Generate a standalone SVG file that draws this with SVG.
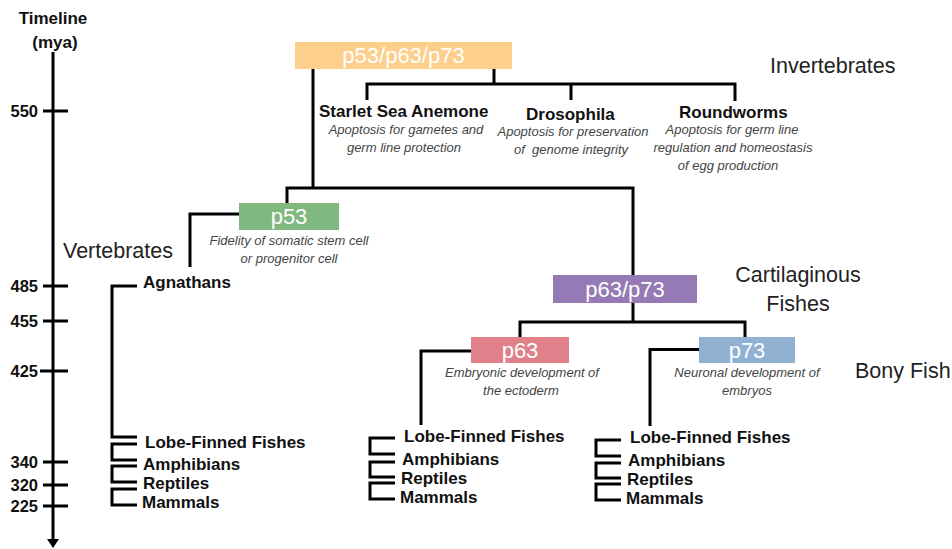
<svg xmlns="http://www.w3.org/2000/svg" width="952" height="549" viewBox="0 0 952 549">
<style>
.ln{fill:none;stroke:#000;stroke-width:3;stroke-linejoin:miter;stroke-linecap:butt}
.b{font-family:"Liberation Sans",Arial,sans-serif;font-weight:bold;font-size:17px;fill:#111}
.tk{font-family:"Liberation Sans",Arial,sans-serif;font-weight:bold;font-size:16.5px;fill:#111;text-anchor:end}
.bx{font-family:"Liberation Sans",Arial,sans-serif;font-size:22px;fill:#fff;text-anchor:middle}
.it{font-family:"Liberation Sans",Arial,sans-serif;font-style:italic;font-size:13px;fill:#444;text-anchor:middle}
.grp{font-family:"Liberation Sans",Arial,sans-serif;font-size:21.5px;fill:#222}
.c{text-anchor:middle}
</style>
<rect width="952" height="549" fill="#fff"/>

<g id="timeline">
  <text class="b c" x="53" y="24">Timeline</text>
  <text class="b c" x="55" y="48">(mya)</text>
  <path class="ln" d="M53 52V541"/>
  <polygon points="47,539 59,539 53,548" fill="#000"/>
  <path class="ln" d="M43 111H68M43 286H68M43 321H68M40 371H68M43 462H68M43 485H68M43 506H68"/>
  <text class="tk" x="38" y="117">550</text>
  <text class="tk" x="38" y="292">485</text>
  <text class="tk" x="38" y="327">455</text>
  <text class="tk" x="38" y="377">425</text>
  <text class="tk" x="38" y="468">340</text>
  <text class="tk" x="38" y="491">320</text>
  <text class="tk" x="38" y="512">225</text>
</g>

<g id="connectors">
  <path class="ln" d="M313 69V188"/>
  <path class="ln" d="M494 69V84"/>
  <path class="ln" d="M367 100V84H735V101"/>
  <path class="ln" d="M571 84V100"/>
  <path class="ln" d="M287 203V188H633V275"/>
  <path class="ln" d="M239 214H190V267"/>
  <path class="ln" d="M633 303V322"/>
  <path class="ln" d="M520 337V322H745V337"/>
  <path class="ln" d="M471 351H421V425"/>
  <path class="ln" d="M699 349.5H650V426"/>
  <path class="ln" d="M137 286H112V437H137"/>
  <path class="ln" d="M137 444H112V460H137"/>
  <path class="ln" d="M137 466H112V482H137"/>
  <path class="ln" d="M137 489H112V505H137"/>
  <path class="ln" d="M395 438H370V454H395"/>
  <path class="ln" d="M395 462H370V477H395"/>
  <path class="ln" d="M395 483H370V499H395"/>
  <path class="ln" d="M621 440H596V456H621"/>
  <path class="ln" d="M621 463H596V478H621"/>
  <path class="ln" d="M621 484H596V500H621"/>
</g>

<g id="node-p53p63p73">
  <rect x="295" y="42" width="217" height="27" fill="#FCCF8C"/>
  <text class="bx" x="403.5" y="63">p53/p63/p73</text>
</g>
<g id="label-invertebrates"><text class="grp" x="770" y="73">Invertebrates</text></g>

<g id="node-starlet">
  <text class="b" x="319" y="117">Starlet Sea Anemone</text>
  <text class="it" x="406" y="134">Apoptosis for gametes and</text>
  <text class="it" x="404" y="152">germ line protection</text>
</g>
<g id="node-drosophila">
  <text class="b" x="526" y="120">Drosophila</text>
  <text class="it" x="573" y="136">Apoptosis for preservation</text>
  <text class="it" x="571" y="154" xml:space="preserve">of  genome integrity</text>
</g>
<g id="node-roundworms">
  <text class="b" x="679" y="118">Roundworms</text>
  <text class="it" x="732" y="134">Apoptosis for germ line</text>
  <text class="it" x="733" y="152">regulation and homeostasis</text>
  <text class="it" x="728" y="170">of egg production</text>
</g>

<g id="node-p53">
  <rect x="239" y="203" width="100" height="27" fill="#80B880"/>
  <text class="bx" x="289" y="224">p53</text>
  <text class="it" x="289" y="245">Fidelity of somatic stem cell</text>
  <text class="it" x="289" y="263">or progenitor cell</text>
</g>
<g id="label-vertebrates"><text class="grp" x="63" y="258">Vertebrates</text></g>

<g id="node-p63p73">
  <rect x="553" y="275" width="144" height="28" fill="#957AB5"/>
  <text class="bx" x="625" y="297">p63/p73</text>
</g>
<g id="label-cartilaginous">
  <text class="grp c" x="798" y="282">Cartilaginous</text>
  <text class="grp c" x="798" y="311">Fishes</text>
</g>

<g id="node-p63">
  <rect x="471" y="337" width="98" height="26" fill="#E0808A"/>
  <text class="bx" x="520" y="358">p63</text>
  <text class="it" x="522" y="377">Embryonic development of</text>
  <text class="it" x="521" y="395">the ectoderm</text>
</g>
<g id="node-p73">
  <rect x="699" y="337" width="96" height="26" fill="#91B1D3"/>
  <text class="bx" x="747" y="358">p73</text>
  <text class="it" x="747" y="377">Neuronal development of</text>
  <text class="it" x="747" y="395">embryos</text>
</g>
<g id="label-bonyfish"><text class="grp" x="855" y="378">Bony Fish</text></g>

<g id="group-p53-species">
  <text class="b" x="143" y="288">Agnathans</text>
  <text class="b" x="145" y="448">Lobe-Finned Fishes</text>
  <text class="b" x="143" y="470">Amphibians</text>
  <text class="b" x="143" y="489">Reptiles</text>
  <text class="b" x="142" y="508">Mammals</text>
</g>
<g id="group-p63-species">
  <text class="b" x="404" y="442">Lobe-Finned Fishes</text>
  <text class="b" x="402" y="465">Amphibians</text>
  <text class="b" x="401" y="484">Reptiles</text>
  <text class="b" x="400" y="503">Mammals</text>
</g>
<g id="group-p73-species">
  <text class="b" x="630" y="443">Lobe-Finned Fishes</text>
  <text class="b" x="628" y="466">Amphibians</text>
  <text class="b" x="627" y="485">Reptiles</text>
  <text class="b" x="626" y="504">Mammals</text>
</g>
</svg>
